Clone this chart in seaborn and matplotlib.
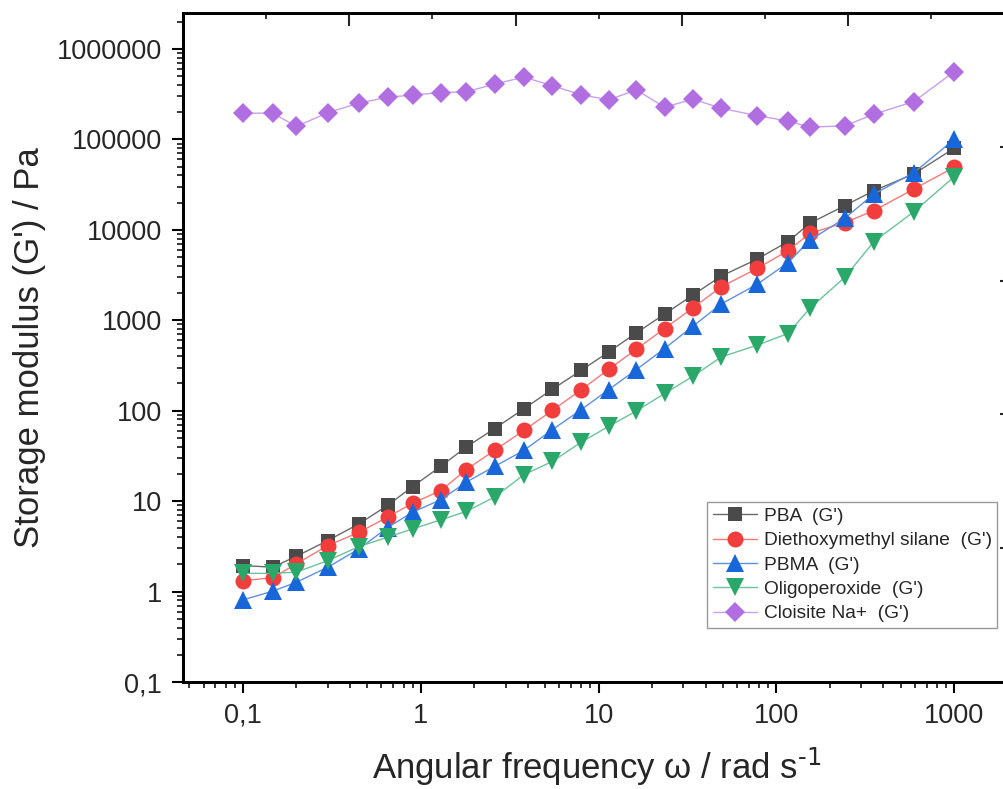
import numpy as np
import pandas as pd
import matplotlib
matplotlib.use("Agg")
import matplotlib.pyplot as plt
from matplotlib.ticker import LogLocator, FuncFormatter, NullFormatter, MultipleLocator
import seaborn as sns

# Angular frequency sweep (rad/s)
omega = [0.1, 0.147, 0.2, 0.3, 0.45, 0.65, 0.9, 1.3, 1.8, 2.6, 3.8, 5.5, 8.0,
         11.4, 16.3, 23.5, 33.9, 48.9, 78.0, 116, 154, 242, 353, 593, 1000]

# Storage modulus G' (Pa) for each sample
pba = [1.94, 1.86, 2.46, 3.67, 5.62, 8.96, 14.5, 24.4, 39.6, 63.4, 105, 173, 280,
       447, 725, 1170, 1900, 3080, 4750, 7400, 11800, 18500, 27100, 41500, 80000]
silane = [1.32, 1.42, 2.03, 3.23, 4.53, 6.65, 9.5, 13.1, 22.3, 36.4, 60.6, 101, 171,
          287, 478, 811, 1370, 2340, 3750, 5870, 9140, 12000, 16300, 28300, 49200]
pbma = [0.81, 1.01, 1.27, 1.86, 2.97, 5.1, 7.55, 10.4, 16.2, 24.2, 36.4, 61.8, 103,
        171, 285, 487, 860, 1510, 2510, 4320, 7690, 13400, 24900, 42900, 100000]
oligo = [1.59, 1.59, 1.64, 2.2, 3.15, 3.99, 4.94, 6.22, 7.69, 11.1, 19.6, 27.5, 45,
         67.2, 99.3, 155, 240, 393, 530, 714, 1350, 2980, 7390, 15900, 38700]
cloisite = [195000, 195000, 139000, 198000, 252000, 293000, 309000, 330000, 336000,
            409000, 489000, 392000, 311000, 274000, 353000, 227000, 279000, 221000,
            183000, 160000, 137000, 141000, 190000, 262000, 563000]

labels = ["PBA  (G')", "Diethoxymethyl silane  (G')", "PBMA  (G')",
          "Oligoperoxide  (G')", "Cloisite Na+  (G')"]
values = [pba, silane, pbma, oligo, cloisite]
markers = ["s", "o", "^", "v", "D"]
msizes = [10.5, 11.5, 13.5, 13.5, 9.8]
face_colors = ["#4a4a4a", "#f23d3d", "#1766da", "#2aa86a", "#b06ee0"]
line_colors = ["#6a6a6a", "#f47a7a", "#5f8fe0", "#6cc29a", "#c8a0ea"]

sns.set_style("ticks")
plt.rcParams["font.family"] = ["Liberation Sans", "DejaVu Sans"]
plt.rcParams["mathtext.default"] = "regular"

fig = plt.figure(figsize=(10.04, 7.89), dpi=100)
W, H = 1004, 789
left, right, top, bottom = 183, 1011, 13, 682
ax = fig.add_axes([left / W, 1 - bottom / H, (right - left) / W, (bottom - top) / H])

for lab, vals, mk, ms, fc, lc in zip(labels, values, markers, msizes, face_colors, line_colors):
    df = pd.DataFrame({"omega": omega, "G": vals})
    sns.lineplot(data=df, x="omega", y="G", ax=ax, color=lc, linewidth=1.0,
                 marker=mk, markersize=ms, markerfacecolor=fc,
                 markeredgewidth=0, label=lab, sort=False)

ax.set_xscale("log")
ax.set_yscale("log")
ax.set_xlim(0.046, 2085)
ax.set_ylim(0.1, 2.5e6)

def comma_fmt(v, pos):
    if v < 1:
        return f"{v:g}".replace(".", ",")
    return f"{int(round(v))}"

ax.xaxis.set_major_locator(LogLocator(base=10, numticks=20))
ax.xaxis.set_minor_locator(LogLocator(base=10, subs=np.arange(2, 10), numticks=50))
ax.yaxis.set_major_locator(LogLocator(base=10, numticks=20))
ax.yaxis.set_minor_locator(LogLocator(base=10, subs=np.arange(2, 10), numticks=50))
ax.xaxis.set_major_formatter(FuncFormatter(comma_fmt))
ax.yaxis.set_major_formatter(FuncFormatter(comma_fmt))
ax.xaxis.set_minor_formatter(NullFormatter())
ax.yaxis.set_minor_formatter(NullFormatter())

ax.tick_params(axis="both", which="major", direction="out", length=8, width=1.5,
               labelsize=19.5, pad=7, color="black")
ax.tick_params(axis="both", which="minor", direction="out", length=4.5, width=1.3)
ax.tick_params(top=False, right=False)
for s in ax.spines.values():
    s.set_linewidth(1.8)
    s.set_color("black")

ax.set_xlabel(r"Angular frequency ω / rad s$^{\text{-1}}$", fontsize=25, labelpad=12)
ax.set_ylabel("Storage modulus (G') / Pa", fontsize=25, labelpad=8)

# Companion frame ticks along the top and right edges
axt = ax.twiny()
axt.set_xlim(0, (right - left) / 166.3)
axt.xaxis.set_major_locator(MultipleLocator(1))
axt.xaxis.set_minor_locator(MultipleLocator(0.5))
axt.tick_params(axis="x", which="major", direction="in", length=9.5, width=1.5, labeltop=False)
axt.tick_params(axis="x", which="minor", direction="in", length=4.5, width=1.3)
axr = ax.twinx()
axr.set_ylim(0, 5)
axr.yaxis.set_major_locator(MultipleLocator(1))
axr.tick_params(axis="y", which="major", direction="in", length=8, width=1.5, labelright=False)
for a in (axt, axr):
    for s in a.spines.values():
        s.set_linewidth(1.8)
        s.set_color("black")
axt.tick_params(axis="y", left=False, labelleft=False)
axr.tick_params(axis="x", bottom=False, labelbottom=False)

ax.legend_.remove()
handles, labs = ax.get_legend_handles_labels()
leg = fig.legend(handles, labs, loc="upper left",
                 bbox_to_anchor=(707 / W, 1 - 502 / H), fontsize=13.8,
                 frameon=True, fancybox=False, edgecolor="#808080",
                 handlelength=2.3, handletextpad=0.35, borderpad=0.3,
                 labelspacing=0.36, borderaxespad=0)
leg.get_frame().set_linewidth(1.0)

fig.savefig("out.png", dpi=100)
